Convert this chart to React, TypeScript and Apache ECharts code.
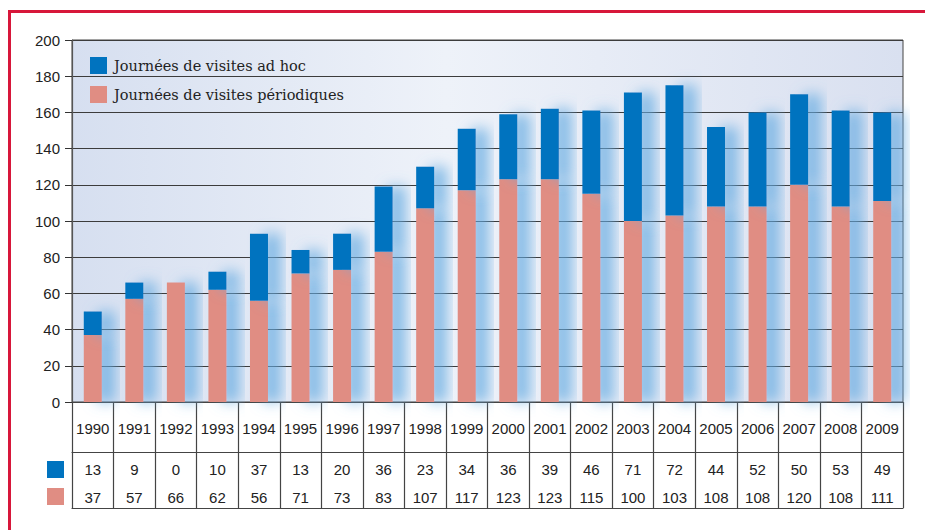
import React, { useEffect, useRef } from "react";
import * as echarts from "echarts";

const years = ["1990","1991","1992","1993","1994","1995","1996","1997","1998","1999","2000","2001","2002","2003","2004","2005","2006","2007","2008","2009"];
const adHoc = [13, 9, 0, 10, 37, 13, 20, 36, 23, 34, 36, 39, 46, 71, 72, 44, 52, 50, 53, 49];
const periodic = [37, 57, 66, 62, 56, 71, 73, 83, 107, 117, 123, 123, 115, 100, 103, 108, 108, 120, 108, 111];
const seriesNames = ["Journées de visites ad hoc", "Journées de visites périodiques"];
const yTicks = { min: 0, max: 200, interval: 20 };

const BLUE = "#0073bf";
const SALMON = "#e08d83";
const SANS = "'Liberation Sans', Arial, sans-serif";
const SERIF = "'DejaVu Serif', serif";

export default function App() {
  const ref = useRef<HTMLDivElement>(null);
  useEffect(() => {
    if (!ref.current) return;
    const chart = echarts.init(ref.current, null, { renderer: "svg" });
    const shadow = {
      shadowBlur: 14,
      shadowColor: "rgba(100,170,225,0.75)",
      shadowOffsetX: 13,
      shadowOffsetY: 0,
    };
    chart.setOption({
      animation: false,
      backgroundColor: "#ffffff",
      grid: {
        left: 72,
        right: 22,
        top: 40,
        bottom: 128,
        show: true,
        borderColor: "#444",
        borderWidth: 1,
        backgroundColor: new echarts.graphic.LinearGradient(0, 0, 1, 0, [
          { offset: 0, color: "#d6dff0" },
          { offset: 0.45, color: "#eef2f9" },
          { offset: 1, color: "#d9e0f0" },
        ]),
      },
      legend: {
        orient: "vertical",
        left: 85,
        top: 52,
        itemWidth: 17,
        itemHeight: 17,
        itemGap: 12,
        icon: "rect",
        data: [seriesNames[0], seriesNames[1]],
        textStyle: { fontFamily: SERIF, fontSize: 14.5, color: "#222", padding: [0, 0, 0, 2] },
      },
      xAxis: [
        {
          type: "category",
          data: years,
          position: "bottom",
          axisLine: { show: true, lineStyle: { color: "#444", width: 1.2 } },
          axisTick: { show: true, length: 106, interval: 0, lineStyle: { color: "#444", width: 1.2 } },
          axisLabel: { fontFamily: SANS, fontSize: 15, color: "#222", margin: 26, verticalAlign: "middle", interval: 0 },
        },
        {
          type: "category",
          data: adHoc.map(String),
          position: "bottom",
          offset: 50,
          axisLine: { show: true, lineStyle: { color: "#444", width: 1.2 } },
          axisTick: { show: false },
          axisLabel: { fontFamily: SANS, fontSize: 15, color: "#222", margin: 17, verticalAlign: "middle", interval: 0 },
        },
        {
          type: "category",
          data: periodic.map(String),
          position: "bottom",
          offset: 50,
          axisLine: { show: false },
          axisTick: { show: false },
          axisLabel: { fontFamily: SANS, fontSize: 15, color: "#222", margin: 45, verticalAlign: "middle", interval: 0 },
        },
        {
          type: "category",
          data: years,
          position: "bottom",
          offset: 106,
          axisLine: { show: true, lineStyle: { color: "#444", width: 1.2 } },
          axisTick: { show: false },
          axisLabel: { show: false },
        },
      ],
      yAxis: {
        type: "value",
        min: yTicks.min,
        max: yTicks.max,
        interval: yTicks.interval,
        axisLine: { show: true, lineStyle: { color: "#555", width: 1.2 } },
        axisTick: { show: true, length: 7, lineStyle: { color: "#333" } },
        axisLabel: { fontFamily: SANS, fontSize: 15, color: "#222", margin: 12 },
        splitLine: { show: true, lineStyle: { color: "#3c3c3c", width: 1 } },
      },
      series: [
        {
          name: seriesNames[1],
          type: "bar",
          stack: "total",
          data: periodic,
          barWidth: 18,
          itemStyle: { color: SALMON, ...shadow },
          z: 3,
        },
        {
          name: seriesNames[0],
          type: "bar",
          stack: "total",
          data: adHoc,
          barWidth: 18,
          itemStyle: { color: BLUE, ...shadow },
          z: 3,
        },
      ],
      graphic: [
        { type: "line", shape: { x1: 8, y1: 11.5, x2: 925, y2: 11.5 }, style: { stroke: "#d7173a", lineWidth: 3 } },
        { type: "line", shape: { x1: 9.5, y1: 10, x2: 9.5, y2: 530 }, style: { stroke: "#d7173a", lineWidth: 3 } },
        { type: "rect", shape: { x: 47, y: 461, width: 17, height: 17 }, style: { fill: BLUE } },
        { type: "rect", shape: { x: 47, y: 488, width: 17, height: 17 }, style: { fill: SALMON } },
      ],
    });
    return () => chart.dispose();
  }, []);
  return <div ref={ref} style={{ position: "fixed", left: 0, top: 0, width: 925, height: 530 }} />;
}
